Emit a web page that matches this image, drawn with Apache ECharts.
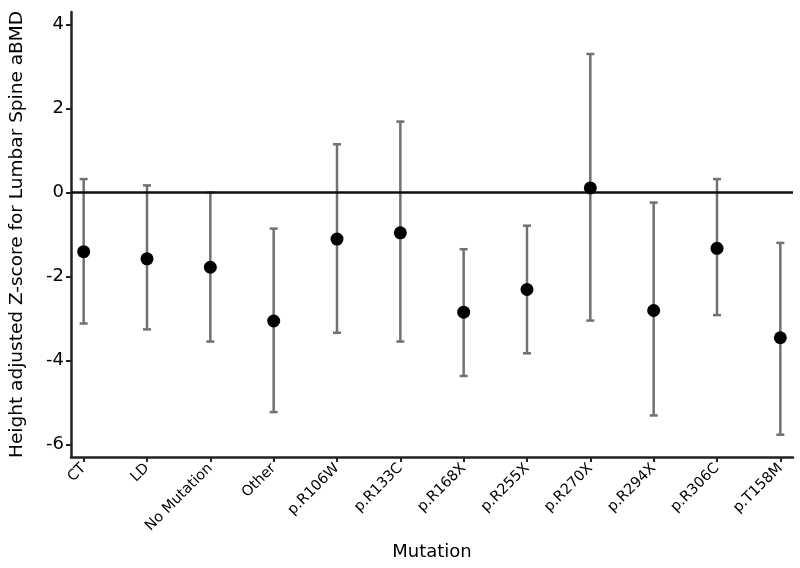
<!DOCTYPE html>
<html>
<head>
<meta charset="utf-8">
<script src="https://cdn.jsdelivr.net/npm/echarts@6/dist/echarts.min.js"></script>
<style>html,body{margin:0;padding:0;background:#fff}#c{width:800px;height:568px}</style>
</head>
<body>
<div id="c"></div>
<script>
const categories = ["CT","LD","No Mutation","Other","p.R106W","p.R133C","p.R168X","p.R255X","p.R270X","p.R294X","p.R306C","p.T158M"];
const means = [-1.41,-1.58,-1.78,-3.06,-1.11,-0.96,-2.85,-2.31,0.11,-2.81,-1.33,-3.46];
const lower = [-3.12,-3.26,-3.55,-5.23,-3.34,-3.55,-4.37,-3.83,-3.05,-5.31,-2.92,-5.77];
const upper = [0.32,0.17,0.0,-0.86,1.15,1.69,-1.35,-0.79,3.30,-0.24,0.32,-1.20];
const yTicks = [-6,-4,-2,0,2,4];

const font = "DejaVu Sans";
const chart = echarts.init(document.getElementById('c'), null, {renderer:'canvas'});
const idx = categories.map((c,i)=>i);
chart.setOption({
  animation:false,
  backgroundColor:'#fff',
  grid:{left:71, right:7, top:12, bottom:111},
  xAxis:{
    type:'value', min:-0.2, max:11.2,
    name:'Mutation', nameLocation:'middle', nameGap:86,
    nameTextStyle:{fontFamily:font, fontSize:18, color:'#000'},
    axisLine:{show:true, onZero:false, lineStyle:{color:'#222', width:2.5}},
    axisTick:{show:true, length:5, customValues:idx, lineStyle:{color:'#222', width:2}},
    axisLabel:{customValues:idx, rotate:45, margin:9, fontFamily:font, fontSize:14.5, color:'#000',
      formatter:(v)=>categories[Math.round(v)]},
    splitLine:{show:false}
  },
  yAxis:{
    type:'value', min:-6.3, max:4.3,
    name:'Height adjusted Z-score for Lumbar Spine aBMD', nameLocation:'middle', nameGap:44,
    nameTextStyle:{fontFamily:font, fontSize:18.5, color:'#000'},
    axisLine:{show:true, onZero:false, lineStyle:{color:'#222', width:2.5}},
    axisTick:{show:true, length:5, customValues:yTicks, lineStyle:{color:'#222', width:2}},
    axisLabel:{customValues:yTicks, margin:7, fontFamily:font, fontSize:18, color:'#000'},
    splitLine:{show:false}
  },
  series:[
    {
      type:'custom',
      data: categories.map((c,i)=>[i, lower[i], upper[i]]),
      renderItem:function(params, api){
        const x = api.value(0);
        const lo = api.coord([x, api.value(1)]);
        const hi = api.coord([x, api.value(2)]);
        const w = 4;
        const st = {stroke:'#717171', lineWidth:2.5};
        return {type:'group', children:[
          {type:'line', shape:{x1:lo[0], y1:lo[1], x2:hi[0], y2:hi[1]}, style:st},
          {type:'line', shape:{x1:lo[0]-w, y1:lo[1], x2:lo[0]+w, y2:lo[1]}, style:st},
          {type:'line', shape:{x1:hi[0]-w, y1:hi[1], x2:hi[0]+w, y2:hi[1]}, style:st}
        ]};
      },
      z:2,
      markLine:{
        silent:true, symbol:['none','none'],
        label:{show:false},
        lineStyle:{color:'#111', width:2.5, type:'solid'},
        data:[{yAxis:0}]
      }
    },
    {
      type:'scatter',
      data: means.map((m,i)=>[i,m]),
      symbol:'circle', symbolSize:13,
      itemStyle:{color:'#000', opacity:1},
      z:5
    }
  ]
});
</script>
</body>
</html>
